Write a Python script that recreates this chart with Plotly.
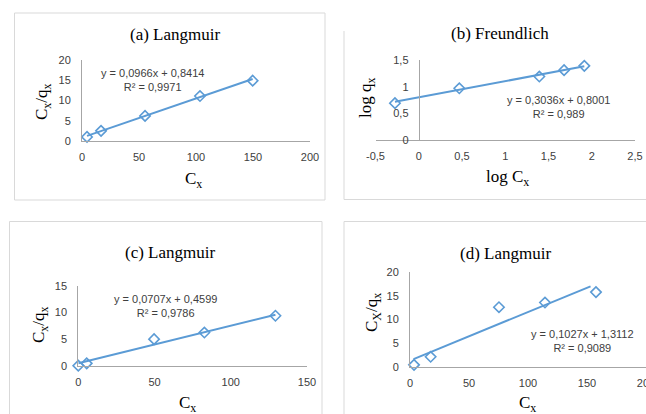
import plotly.graph_objects as go

W, H = 646, 414

# ---------------- data ----------------
a_x = [4.4, 16.7, 55.3, 103.5, 149.7]
a_y = [1.0, 2.5, 6.2, 11.1, 14.9]
a_fit = [0.0966, 0.8414]
a_fit_x = [4.4, 149.7]

b_x = [-0.275, 0.469, 1.394, 1.68, 1.914]
b_y = [0.69, 0.97, 1.19, 1.31, 1.39]
b_fit = [0.3036, 0.8001]
b_fit_x = [-0.275, 1.914]

c_x = [0.0, 5.5, 49.7, 82.7, 129.3]
c_y = [0.0, 0.45, 4.99, 6.24, 9.4]
c_fit = [0.0707, 0.4599]
c_fit_x = [0.0, 129.3]

d_x = [3.4, 17.5, 75.4, 114.4, 157.6]
d_y = [0.4, 2.1, 12.6, 13.6, 15.8]
d_fit = [0.1027, 1.3112]
d_fit_x = [3.0, 153.0]

a_xticks = [0, 50, 100, 150, 200]
a_yticks = [0, 5, 10, 15, 20]
b_xticks = [-0.5, 0, 0.5, 1, 1.5, 2, 2.5]
b_xlabels = ["-0,5", "0", "0,5", "1", "1,5", "2", "2,5"]
b_yticks = [0, 0.5, 1, 1.5]
b_ylabels = ["0", "0,5", "1", "1,5"]
c_xticks = [0, 50, 100, 150]
c_yticks = [0, 5, 10, 15]
d_xticks = [0, 50, 100, 150, 200]
d_yticks = [0, 5, 10, 15, 20]

titles = ["(a) Langmuir", "(b) Freundlich", "(c) Langmuir", "(d) Langmuir"]
ytitles = ["C<sub>x</sub>/q<sub>x</sub>", "log q<sub>x</sub>",
           "C<sub>x</sub>/q<sub>x</sub>", "C<sub>X</sub>/q<sub>x</sub>"]
xtitles = ["C<sub>x</sub>", "log C<sub>x</sub>", "C<sub>x</sub>", "C<sub>x</sub>"]
eqs = ["y = 0,0966x + 0,8414", "y = 0,3036x + 0,8001",
       "y = 0,0707x + 0,4599", "y = 0,1027x + 1,3112"]
r2s = ["R² = 0,9971", "R² = 0,989", "R² = 0,9786", "R² = 0,9089"]

# ---------------- layout helpers ----------------
def px(x):
    return x / W

def py(y):
    return 1 - y / H

BLUE = "#5b9bd5"
AXC = "#a6a6a6"
TXT = "#404040"
TICKFONT = dict(family="Liberation Sans, Arial, sans-serif", size=11, color=TXT)
SERIF = "Liberation Serif, Times New Roman, serif"

panels = [
    dict(xr=[0, 200], yr=[0, 20], xp=[82, 310], yp=[141, 60]),
    dict(xr=[-0.5, 2.5], yr=[0, 1.5], xp=[375.5, 635], yp=[140, 60]),
    dict(xr=[0, 150], yr=[0, 15], xp=[78.3, 307], yp=[365.7, 286]),
    dict(xr=[0, 200], yr=[0, 20], xp=[410, 646], yp=[366.7, 272.3]),
]
data = [(a_x, a_y, a_fit, a_fit_x), (b_x, b_y, b_fit, b_fit_x),
        (c_x, c_y, c_fit, c_fit_x), (d_x, d_y, d_fit, d_fit_x)]
ticks = [(a_xticks, None, a_yticks, None), (b_xticks, b_xlabels, b_yticks, b_ylabels),
         (c_xticks, None, c_yticks, None), (d_xticks, None, d_yticks, None)]

fig = go.Figure()
layout = dict(
    width=W, height=H, margin=dict(l=0, r=0, t=0, b=0),
    paper_bgcolor="white", plot_bgcolor="white", showlegend=False,
    separators=", ",
)

for i, (p, (xs, ys, fit, fx), (xt, xl, yt, yl)) in enumerate(zip(panels, data, ticks)):
    n = "" if i == 0 else str(i + 1)
    xa, ya = "x" + n, "y" + n
    xdom = [px(p["xp"][0]), px(p["xp"][1])]
    ydom = [py(p["yp"][0]), py(p["yp"][1])]
    xaxis = dict(domain=xdom, range=p["xr"], anchor=ya, showgrid=False, zeroline=False,
                 showline=True, linecolor=AXC, linewidth=1, ticks="", tickvals=xt,
                 tickfont=TICKFONT, automargin=False, ticklabelstandoff=6,
                 ticklabeloverflow="allow")
    if xl:
        xaxis["ticktext"] = xl
    yaxis = dict(domain=ydom, range=p["yr"], anchor=xa, showgrid=False, zeroline=False,
                 showline=True, linecolor=AXC, linewidth=1, ticks="", tickvals=yt,
                 tickfont=TICKFONT, automargin=False, ticklabelstandoff=8,
                 ticklabeloverflow="allow")
    if yl:
        yaxis["ticktext"] = yl
    if i == 1:
        # y axis crosses at x = 0
        frac = (0 - p["xr"][0]) / (p["xr"][1] - p["xr"][0])
        yaxis["anchor"] = "free"
        yaxis["position"] = xdom[0] + frac * (xdom[1] - xdom[0])
    layout["xaxis" + n] = xaxis
    layout["yaxis" + n] = yaxis

    fy = [fit[0] * v + fit[1] for v in fx]
    fig.add_trace(go.Scatter(x=fx, y=fy, mode="lines", line=dict(color=BLUE, width=2),
                             xaxis=xa, yaxis=ya, cliponaxis=False, hoverinfo="skip"))
    fig.add_trace(go.Scatter(x=xs, y=ys, mode="markers", xaxis=xa, yaxis=ya, cliponaxis=False,
                             marker=dict(symbol="diamond-open", size=8, color=BLUE,
                                         line=dict(color=BLUE, width=1.6))))

fig.update_layout(**layout)

# ---------------- frames ----------------
BOX = "#d9d9d9"
shapes = [
    dict(type="rect", xref="paper", yref="paper", x0=px(14.5), x1=px(325), y0=py(200), y1=py(13),
         line=dict(color=BOX, width=1)),
    dict(type="line", xref="paper", yref="paper", x0=px(344), x1=px(344), y0=py(199.5), y1=py(31),
         line=dict(color=BOX, width=1)),
    dict(type="line", xref="paper", yref="paper", x0=px(344), x1=px(660), y0=py(199.5), y1=py(199.5),
         line=dict(color=BOX, width=1)),
    dict(type="rect", xref="paper", yref="paper", x0=px(9.5), x1=px(322), y0=py(430), y1=py(221.5),
         line=dict(color=BOX, width=1)),
    dict(type="rect", xref="paper", yref="paper", x0=px(344), x1=px(660), y0=py(430), y1=py(221.5),
         line=dict(color=BOX, width=1)),
]

# ---------------- text ----------------
title_pos = [(175, 34), (500, 33), (170, 252), (505, 253)]
ytitle_pos = [(43, 102), (367, 98), (40, 325), (373, 313)]
xtitle_pos = [(193, 180), (507, 178), (188, 404), (527, 404)]
eq_pos = [(152, 72), (558, 99), (165, 298), (582, 333)]

ann = []
for i in range(4):
    ann.append(dict(text=titles[i], x=px(title_pos[i][0]), y=py(title_pos[i][1]),
                    xref="paper", yref="paper", showarrow=False, xanchor="center", yanchor="middle",
                    font=dict(family=SERIF, size=17, color="black")))
    ann.append(dict(text=ytitles[i], x=px(ytitle_pos[i][0]), y=py(ytitle_pos[i][1]), textangle=-90,
                    xref="paper", yref="paper", showarrow=False, xanchor="center", yanchor="middle",
                    font=dict(family=SERIF, size=17, color="black")))
    ann.append(dict(text=xtitles[i], x=px(xtitle_pos[i][0]), y=py(xtitle_pos[i][1]),
                    xref="paper", yref="paper", showarrow=False, xanchor="center", yanchor="middle",
                    font=dict(family=SERIF, size=17, color="black")))
    ann.append(dict(text=eqs[i] + "<br>" + r2s[i], x=px(eq_pos[i][0]), y=py(eq_pos[i][1] - 7),
                    xref="paper", yref="paper", showarrow=False, xanchor="center", yanchor="top",
                    align="center",
                    font=dict(family="Liberation Sans, Arial, sans-serif", size=11, color=TXT)))

fig.update_layout(shapes=shapes, annotations=ann)
fig.write_html("out.html")
